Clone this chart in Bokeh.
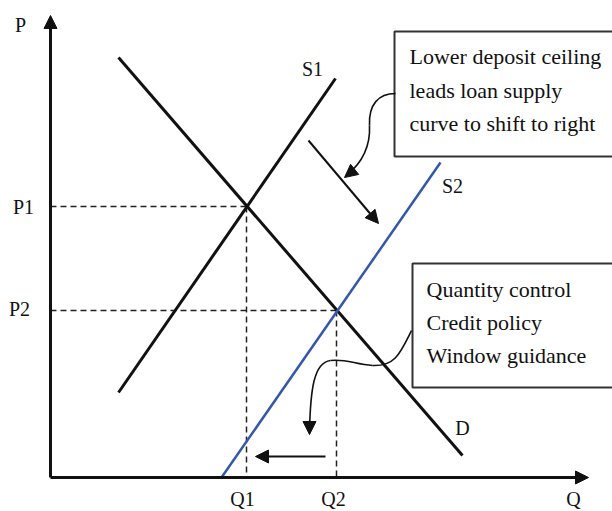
from bokeh.plotting import figure
from bokeh.models import Range1d, Arrow, NormalHead, ColumnDataSource
from bokeh.core.properties import value
from bokeh.embed import file_html
from bokeh.resources import INLINE

# ---- data (Q, P in chart units; origin at axes corner) ----
D_q = [68, 412];   D_p = [420, 22]
S1_q = [68, 285];  S1_p = [85, 399]
S2_q = [171, 390]; S2_p = [0, 315]
Q1, P1 = 196, 271
Q2, P2 = 286, 167
Q_MAX, P_MAX = 538, 462

curve_labels = ["S1", "S2", "D"]
curve_label_q = [262, 402, 412]
curve_label_p = [409, 292, 50]

axis_labels = ["P", "P1", "P2", "Q1", "Q2", "Q"]
axis_label_q = [-30, -27, -31, 192, 283, 523]
axis_label_p = [453, 271, 169, -21, -21, -21]

box1_lines = ["Lower deposit ceiling", "leads loan supply", "curve to shift to right"]
box1_rect = dict(left=344, right=575, top=446, bottom=321)
box1_text_q = 359
box1_text_p = [421, 387, 354]

box2_lines = ["Quantity control", "Credit policy", "Window guidance"]
box2_rect = dict(left=362, right=575, top=214, bottom=90)
box2_text_q = 376
box2_text_p = [188, 155, 122]

# straight shift arrows (start q, start p, end q, end p)
shift_arrows = [(258, 337, 328, 254), (275, 21, 205, 21)]

# curved callout arrows: cubic bezier segments (x0,y0,cx0,cy0,cx1,cy1,x1,y1)
callout1 = [(345, 384, 328, 384, 318, 373, 319, 352),
            (319, 352, 320, 332, 312, 315, 296, 302)]
callout1_head = (304, 308, 294, 300)
callout2 = [(361, 147, 350, 125, 345, 111, 322, 112),
            (322, 112, 305, 113, 295, 119, 280, 117),
            (280, 117, 263, 115, 260, 87, 259, 47)]
callout2_head = (259, 57, 259, 43)

SERIF = value("Liberation Serif")
INK = "#111111"
BLUE = "#3557a8"

p = figure(width=612, height=511, output_backend="svg", toolbar_location=None,
           x_range=Range1d(-50, 562), y_range=Range1d(-34, 477),
           min_border=0)
p.axis.visible = False
p.grid.visible = False
p.outline_line_color = None
p.background_fill_color = "white"

# dashed guides
dash = dict(line_color="#222222", line_width=1.5, line_dash="6 4")
p.line([0, Q1], [P1, P1], **dash)
p.line([Q1, Q1], [P1, 0], **dash)
p.line([0, Q2], [P2, P2], **dash)
p.line([Q2, Q2], [P2, 0], **dash)

# curves
p.line(D_q, D_p, line_color=INK, line_width=3)
p.line(S1_q, S1_p, line_color=INK, line_width=3)
p.line(S2_q, S2_p, line_color=BLUE, line_width=2.5)

# axes with arrow heads
p.add_layout(Arrow(end=NormalHead(size=13, fill_color=INK, line_color=INK, line_width=1),
                   x_start=0, y_start=0, x_end=0, y_end=P_MAX, line_width=3, line_color=INK))
p.add_layout(Arrow(end=NormalHead(size=13, fill_color=INK, line_color=INK, line_width=1),
                   x_start=0, y_start=0, x_end=Q_MAX, y_end=0, line_width=3, line_color=INK))

# boxes
for r in (box1_rect, box2_rect):
    p.quad(left=r["left"], right=r["right"], top=r["top"], bottom=r["bottom"],
           fill_color="white", line_color="#333333", line_width=2)

# shift arrows
for (x0, y0, x1, y1) in shift_arrows:
    p.add_layout(Arrow(end=NormalHead(size=13, fill_color=INK, line_color=INK, line_width=1),
                       x_start=x0, y_start=y0, x_end=x1, y_end=y1,
                       line_width=2, line_color=INK))

# callouts
for segs, head in ((callout1, callout1_head), (callout2, callout2_head)):
    src = ColumnDataSource(dict(
        x0=[s[0] for s in segs], y0=[s[1] for s in segs],
        cx0=[s[2] for s in segs], cy0=[s[3] for s in segs],
        cx1=[s[4] for s in segs], cy1=[s[5] for s in segs],
        x1=[s[6] for s in segs], y1=[s[7] for s in segs]))
    p.bezier(x0="x0", y0="y0", x1="x1", y1="y1", cx0="cx0", cy0="cy0",
             cx1="cx1", cy1="cy1", source=src, line_color=INK, line_width=1.6)
    p.add_layout(Arrow(end=NormalHead(size=13, fill_color=INK, line_color=INK, line_width=1),
                       x_start=head[0], y_start=head[1], x_end=head[2], y_end=head[3],
                       line_width=1.6, line_color=INK))

# labels
p.text(x=curve_label_q, y=curve_label_p, text=curve_labels, text_font=SERIF,
       text_font_size="20px", text_align="center", text_baseline="middle", text_color=INK)
p.text(x=axis_label_q, y=axis_label_p, text=axis_labels, text_font=SERIF,
       text_font_size="20px", text_align="center", text_baseline="middle", text_color=INK)
p.text(x=[box1_text_q] * 3, y=box1_text_p, text=box1_lines, text_font=SERIF,
       text_font_size="22px", text_align="left", text_baseline="alphabetic", text_color=INK)
p.text(x=[box2_text_q] * 3, y=box2_text_p, text=box2_lines, text_font=SERIF,
       text_font_size="22px", text_align="left", text_baseline="alphabetic", text_color=INK)

open("out.html", "w").write(file_html(p, INLINE))
